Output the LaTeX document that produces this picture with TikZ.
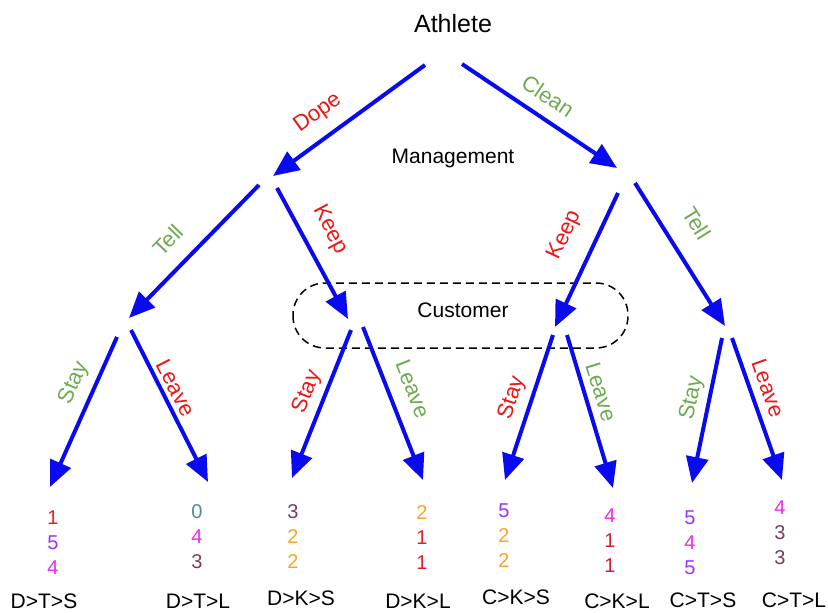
\documentclass[tikz,border=0pt]{standalone}
\usepackage{fontspec}
\setmainfont{Liberation Sans}
\usetikzlibrary{arrows.meta}
\definecolor{arrblue}{RGB}{10,10,240}
\definecolor{lred}{RGB}{240,20,20}
\definecolor{lgreen}{RGB}{110,170,80}
\definecolor{cred}{RGB}{232,30,40}
\definecolor{cpur}{RGB}{155,50,250}
\definecolor{cmag}{RGB}{238,40,238}
\definecolor{cteal}{RGB}{80,140,140}
\definecolor{cmar}{RGB}{120,60,95}
\definecolor{corg}{RGB}{245,165,40}
\definecolor{ccrim}{RGB}{210,30,55}
\tikzset{
  arr/.style={draw=arrblue, line width=4pt, -{Triangle[length=26pt,width=22pt]}},
  lbl/.style={font=\fontsize{22}{26}\selectfont, inner sep=0pt},
  redlbl/.style={lbl, text=lred},
  grnlbl/.style={lbl, text=lgreen},
  nums/.style={font=\fontsize{20}{25}\selectfont, align=center, inner sep=0pt},
  leaf/.style={font=\fontsize{21}{24}\selectfont, inner sep=0pt},
  title/.style={font=\fontsize{21}{24}\selectfont, inner sep=0pt},
  cust/.style={draw=black, line width=1.5pt, dash pattern=on 8pt off 5pt, rounded corners=32pt}
}
\begin{document}
\begin{tikzpicture}[x=1pt,y=-1pt]
\useasboundingbox (0,0) rectangle (828,613);
% customer group
\draw[cust] (293,283) rectangle (628,348);
\node[title] (cus) at (463,310) {Customer};
% titles
\node[font=\fontsize{25}{28}\selectfont, inner sep=0pt] (ath) at (453,24) {Athlete};
\node[title] (man) at (453,158) {Management};
% level 1 endpoints
\coordinate (a0) at (425,65);
\coordinate (a1) at (462,64);
\coordinate (d0) at (273,176);
\coordinate (c0) at (617,168);
\draw[arr] (a0) -- (d0);
\draw[arr] (a1) -- (c0);
\node[redlbl, rotate=36] (ldope) at (318,113) {Dope};
\node[grnlbl, rotate=-34] (lclean) at (548,96) {Clean};
% level 2
\coordinate (dt0) at (259,185);
\coordinate (dk0) at (277,188);
\coordinate (dt1) at (129,318);
\coordinate (dk1) at (348,319);
\coordinate (ck0) at (618,193);
\coordinate (ct0) at (635,183);
\coordinate (ck1) at (555,327);
\coordinate (ct1) at (725,326);
\draw[arr] (dt0) -- (dt1);
\draw[arr] (dk0) -- (dk1);
\draw[arr] (ck0) -- (ck1);
\draw[arr] (ct0) -- (ct1);
\node[grnlbl, rotate=46] (ltell1) at (168,240) {Tell};
\node[redlbl, rotate=-61.5] (lkeep1) at (330,230) {Keep};
\node[redlbl, rotate=65] (lkeep2) at (565,235) {Keep};
\node[grnlbl, rotate=-58] (ltell2) at (697,223) {Tell};
% level 3
\coordinate (s1a) at (117,337); \coordinate (s1b) at (50,487);
\coordinate (l1a) at (131,330); \coordinate (l1b) at (208,482);
\coordinate (s2a) at (351,330); \coordinate (s2b) at (292,478);
\coordinate (l2a) at (363,327); \coordinate (l2b) at (423,480);
\coordinate (s3a) at (553,335); \coordinate (s3b) at (505,480);
\coordinate (l3a) at (567,335); \coordinate (l3b) at (613,488);
\coordinate (s4a) at (722,338); \coordinate (s4b) at (692,483);
\coordinate (l4a) at (732,338); \coordinate (l4b) at (782,480);
\draw[arr] (s1a) -- (s1b);
\draw[arr] (l1a) -- (l1b);
\draw[arr] (s2a) -- (s2b);
\draw[arr] (l2a) -- (l2b);
\draw[arr] (s3a) -- (s3b);
\draw[arr] (l3a) -- (l3b);
\draw[arr] (s4a) -- (s4b);
\draw[arr] (l4a) -- (l4b);
\node[grnlbl, rotate=66] (lst1) at (74,383) {Stay};
\node[redlbl, rotate=-63] (lle1) at (176,388) {Leave};
\node[redlbl, rotate=68] (lst2) at (307,392) {Stay};
\node[grnlbl, rotate=-68.6] (lle2) at (413,389) {Leave};
\node[redlbl, rotate=72] (lst3) at (512,398) {Stay};
\node[grnlbl, rotate=-73] (lle3) at (601,392) {Leave};
\node[grnlbl, rotate=78] (lst4) at (692,398) {Stay};
\node[redlbl, rotate=-70.6] (lle4) at (768,388) {Leave};
% payoffs
\node[nums] (n1) at (53,543) {\textcolor{cred}{1}\\\textcolor{cpur}{5}\\\textcolor{cmag}{4}};
\node[nums] (n2) at (197,537) {\textcolor{cteal}{0}\\\textcolor{cmag}{4}\\\textcolor{cmar}{3}};
\node[nums] (n3) at (293,537) {\textcolor{cmar}{3}\\\textcolor{corg}{2}\\\textcolor{corg}{2}};
\node[nums] (n4) at (422,538) {\textcolor{corg}{2}\\\textcolor{cred}{1}\\\textcolor{cred}{1}};
\node[nums] (n5) at (504,536) {\textcolor{cpur}{5}\\\textcolor{corg}{2}\\\textcolor{corg}{2}};
\node[nums] (n6) at (610,541) {\textcolor{cmag}{4}\\\textcolor{ccrim}{1}\\\textcolor{ccrim}{1}};
\node[nums] (n7) at (690,543) {\textcolor{cpur}{5}\\\textcolor{cmag}{4}\\\textcolor{cpur}{5}};
\node[nums] (n8) at (780,533) {\textcolor{cmag}{4}\\\textcolor{cmar}{3}\\\textcolor{cmar}{3}};
% leaf labels
\node[leaf] (f1) at (44,601) {D>T>S};
\node[leaf] (f2) at (198,601) {D>T>L};
\node[leaf] (f3) at (301,598) {D>K>S};
\node[leaf] (f4) at (418,601) {D>K>L};
\node[leaf] (f5) at (516,597) {C>K>S};
\node[leaf] (f6) at (617,601) {C>K>L};
\node[leaf] (f7) at (703,600) {C>T>S};
\node[leaf] (f8) at (794,600) {C>T>L};
\end{tikzpicture}
\end{document}
